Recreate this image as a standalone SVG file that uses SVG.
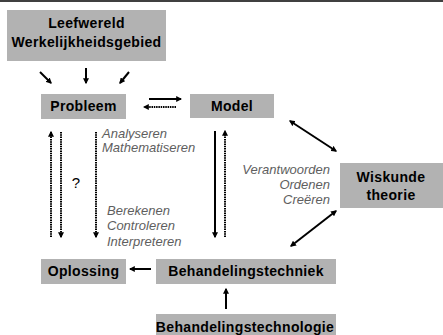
<svg xmlns="http://www.w3.org/2000/svg" width="443" height="335" viewBox="0 0 443 335">
<style>
.box{fill:#b2b2b2}
.t{font-family:"Liberation Sans",Arial,sans-serif;font-weight:bold;font-size:14px;letter-spacing:0.35px;fill:#000;text-anchor:middle}
.i{font-family:"Liberation Sans",Arial,sans-serif;font-style:italic;font-size:13px;fill:#5e5e5e}
.s{stroke:#000;stroke-width:2;fill:none}
.d{stroke:#000;stroke-width:2;fill:none;stroke-dasharray:1.5 0.8}
</style>
<defs>
<marker id="ah" viewBox="0 0 10 10" refX="8" refY="5" markerWidth="3" markerHeight="3" orient="auto-start-reverse" markerUnits="strokeWidth">
<path d="M0,0 L10,5 L0,10 z" fill="#000"/>
</marker>
</defs>
<rect width="443" height="335" fill="#fff"/>
<line x1="0" y1="1" x2="443" y2="1" stroke="#000" stroke-width="1.5"/>
<g id="leefwereld"><rect class="box" x="7" y="10" width="159" height="51"/><text class="t" x="86.5" y="28">Leefwereld</text><text class="t" x="86.5" y="47">Werkelijkheidsgebied</text></g>
<g id="probleem"><rect class="box" x="41" y="94" width="85" height="25"/><text class="t" x="83.5" y="111">Probleem</text></g>
<g id="model"><rect class="box" x="190" y="94" width="84" height="24"/><text class="t" x="232" y="111">Model</text></g>
<g id="wiskunde"><rect class="box" x="340" y="163" width="103" height="45"/><text class="t" x="391" y="182">Wiskunde</text><text class="t" x="391" y="200">theorie</text></g>
<g id="oplossing"><rect class="box" x="41" y="259" width="85" height="25"/><text class="t" x="83.5" y="276">Oplossing</text></g>
<g id="techniek"><rect class="box" x="156" y="259" width="180" height="25"/><text class="t" x="246" y="276">Behandelingstechniek</text></g>
<g id="technologie"><rect class="box" x="156" y="314" width="180" height="21"/><text class="t" x="245" y="332">Behandelingstechnologie</text></g>
<g id="labels">
<text class="i" x="102" y="138">Analyseren</text>
<text class="i" x="102" y="152">Mathematiseren</text>
<text class="i" x="107" y="215">Berekenen</text>
<text class="i" x="107" y="230">Controleren</text>
<text class="i" x="107" y="246">Interpreteren</text>
<text class="i" text-anchor="end" x="330" y="174">Verantwoorden</text>
<text class="i" text-anchor="end" x="330" y="189">Ordenen</text>
<text class="i" text-anchor="end" x="330" y="204">Creëren</text>
<text x="76" y="188" style="font-family:'Liberation Sans',Arial,sans-serif;font-size:15px;fill:#000" text-anchor="middle">?</text>
</g>
<g id="connectors">
<line class="s" x1="40" y1="72" x2="51" y2="83" marker-end="url(#ah)"/>
<line class="s" x1="86" y1="68" x2="86" y2="83" marker-end="url(#ah)"/>
<line class="s" x1="129" y1="72" x2="120" y2="83" marker-end="url(#ah)"/>
<line class="s" x1="149" y1="99" x2="181" y2="99" marker-end="url(#ah)"/>
<line class="d" x1="176" y1="107" x2="144" y2="107" marker-end="url(#ah)"/>
<line class="d" x1="51" y1="237" x2="51" y2="132" marker-end="url(#ah)"/>
<line class="d" x1="61" y1="132" x2="61" y2="237" marker-end="url(#ah)"/>
<line class="d" x1="96" y1="132" x2="96" y2="237" marker-end="url(#ah)"/>
<line class="s" x1="215" y1="131" x2="215" y2="237" marker-end="url(#ah)"/>
<line class="d" x1="225" y1="237" x2="225" y2="131" marker-end="url(#ah)"/>
<line class="s" x1="290" y1="121" x2="336" y2="151" marker-start="url(#ah)" marker-end="url(#ah)"/>
<line class="s" x1="336" y1="211" x2="291" y2="246" marker-start="url(#ah)" marker-end="url(#ah)"/>
<line class="s" x1="151" y1="269" x2="130" y2="269" marker-end="url(#ah)"/>
<line class="s" x1="226" y1="309" x2="226" y2="289" marker-end="url(#ah)"/>
</g>
</svg>
